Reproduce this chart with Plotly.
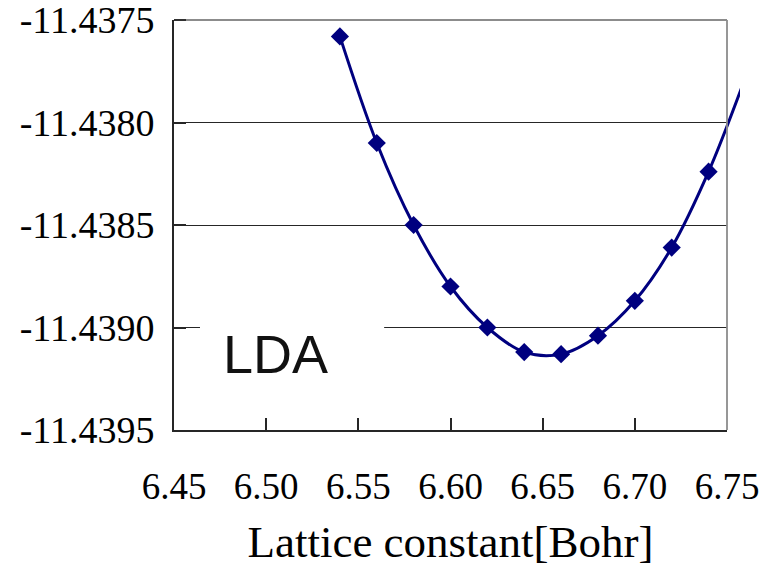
import plotly.graph_objects as go

# Total energy vs. lattice constant (LDA)
lattice = [6.54, 6.56, 6.58, 6.60, 6.62, 6.64, 6.66, 6.68, 6.70, 6.72, 6.74]
energy = [-11.43758, -11.43810, -11.43850, -11.43880, -11.43900, -11.43912,
          -11.43913, -11.43904, -11.43887, -11.43861, -11.43824]
# next computed point, beyond the displayed x range (line only)
lattice_ext = [6.76]
energy_ext = [-11.43778]

x_ticks = [6.45, 6.50, 6.55, 6.60, 6.65, 6.70, 6.75]
x_tick_labels = ["6.45", "6.50", "6.55", "6.60", "6.65", "6.70", "6.75"]
y_ticks = [-11.4395, -11.4390, -11.4385, -11.4380, -11.4375]
y_tick_labels = ["-11.4395", "-11.4390", "-11.4385", "-11.4380", "-11.4375"]

X_RANGE = [6.45, 6.75]
Y_RANGE = [-11.4395, -11.4375]

W, H = 764, 567
ML, MR, MT, MB = 174, 24, 20, 137
plot_w = W - ML - MR            # width of the overflow subplot (line may run past 6.75)
axis_w = 553                    # width of the framed axis area
dom_end = axis_w / plot_w
x2_max = X_RANGE[0] + (X_RANGE[1] - X_RANGE[0]) * plot_w / axis_w

NAVY = "#00007f"
DARK = "#262626"
GRAY = "#8c8c8c"
SERIF = "Liberation Serif, Times New Roman, serif"

fig = go.Figure()

fig.add_trace(go.Scatter(
    x=lattice + lattice_ext, y=energy + energy_ext,
    mode="lines", line=dict(color=NAVY, width=3, shape="spline", smoothing=1),
    xaxis="x2", yaxis="y2", showlegend=False, hoverinfo="skip",
))
fig.add_trace(go.Scatter(
    x=lattice, y=energy, mode="markers",
    marker=dict(symbol="diamond", size=14, color=NAVY, line=dict(width=0)),
    xaxis="x2", yaxis="y2", showlegend=False,
))

# white patch behind the label, interrupting the grid line
fig.add_shape(type="rect", xref="x", yref="y", layer="above",
              x0=6.4641, x1=6.5640, y0=-11.43929, y1=-11.43886,
              fillcolor="white", line=dict(width=0))
# grey top and right border of the plot area
fig.add_shape(type="line", xref="paper", yref="paper", layer="above",
              x0=0, x1=dom_end, y0=1, y1=1, line=dict(color=GRAY, width=1.8))
fig.add_shape(type="line", xref="paper", yref="paper", layer="above",
              x0=dom_end, x1=dom_end, y0=0, y1=1, line=dict(color=GRAY, width=1.8))
# short inside tick at the top of the value axis
fig.add_shape(type="line", xref="paper", yref="paper", layer="above",
              x0=0, x1=12 / plot_w, y0=1, y1=1, line=dict(color=DARK, width=1.8))

fig.add_annotation(x=6.5053, y=-11.43913, xref="x", yref="y", text="LDA",
                   showarrow=False,
                   font=dict(family="Liberation Sans, Arial, sans-serif", size=54, color="#111"))

fig.update_layout(
    width=W, height=H,
    margin=dict(l=ML, r=MR, t=MT, b=MB, autoexpand=False),
    paper_bgcolor="white", plot_bgcolor="rgba(0,0,0,0)",
    xaxis=dict(
        domain=[0, dom_end], range=X_RANGE, anchor="y", automargin=False,
        tickmode="array", tickvals=x_ticks, ticktext=x_tick_labels,
        ticks="inside", ticklen=12, tickwidth=1.6, tickcolor=DARK,
        showline=True, linecolor=DARK, linewidth=2,
        showgrid=False, zeroline=False, ticklabeloverflow="allow",
        tickfont=dict(family=SERIF, size=37, color="black"),
        ticklabelstandoff=23,
        title=dict(text="Lattice constant[Bohr]", standoff=24,
                   font=dict(family=SERIF, size=45, color="black")),
    ),
    yaxis=dict(
        domain=[0, 1], range=Y_RANGE, anchor="x", automargin=False,
        tickmode="array", tickvals=y_ticks, ticktext=y_tick_labels,
        ticks="inside", ticklen=12, tickwidth=1.6, tickcolor=DARK,
        showline=True, linecolor=DARK, linewidth=2,
        showgrid=True, gridcolor=DARK, gridwidth=1.4, zeroline=False,
        ticklabeloverflow="allow",
        tickfont=dict(family=SERIF, size=38, color="black"),
        ticklabelstandoff=10,
    ),
    xaxis2=dict(domain=[0, 1], range=[X_RANGE[0], x2_max], anchor="y2", visible=False),
    yaxis2=dict(domain=[0, 1], range=Y_RANGE, anchor="x2", visible=False),
)

fig.write_html("out.html")
